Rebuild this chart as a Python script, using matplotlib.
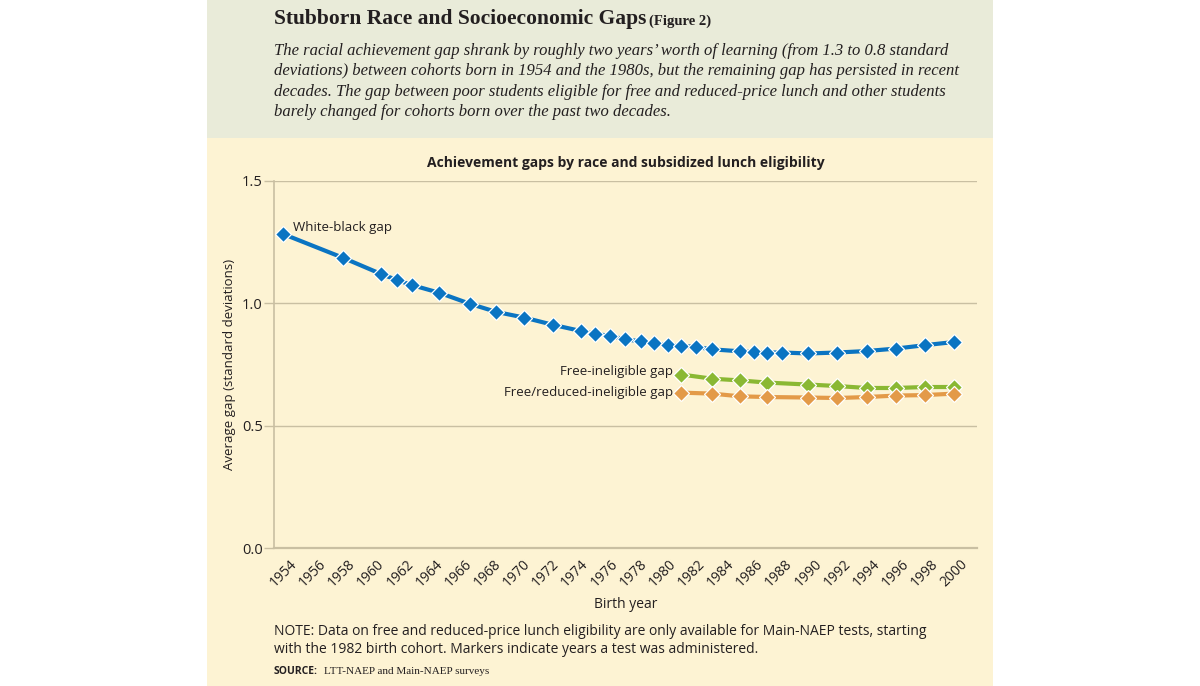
import matplotlib
matplotlib.use("Agg")
import matplotlib.pyplot as plt
from matplotlib.patches import Rectangle
from matplotlib.transforms import ScaledTranslation

# ---- data ----
wb_years = [1954, 1958.1, 1960.7, 1961.8, 1962.8, 1964.7, 1966.8, 1968.6, 1970.5, 1972.5,
            1974.4, 1975.4, 1976.4, 1977.4, 1978.5, 1979.4, 1980.4, 1981.3, 1982.3, 1983.4,
            1985.3, 1986.3, 1987.2, 1988.2, 1990, 1992, 1994, 1996, 1998, 2000]
wb_gap = [1.283, 1.186, 1.120, 1.095, 1.075, 1.043, 0.998, 0.965, 0.942, 0.912,
          0.887, 0.875, 0.867, 0.853, 0.845, 0.838, 0.829, 0.826, 0.822, 0.812,
          0.804, 0.801, 0.799, 0.799, 0.795, 0.799, 0.805, 0.815, 0.829, 0.842]
lunch_years = [1981.3, 1983.4, 1985.3, 1987.2, 1990, 1992, 1994, 1996, 1998, 2000]
free_gap = [0.709, 0.692, 0.685, 0.676, 0.668, 0.662, 0.654, 0.654, 0.658, 0.658]
freered_gap = [0.635, 0.631, 0.620, 0.617, 0.615, 0.613, 0.617, 0.623, 0.625, 0.631]
x_ticks = list(range(1954, 2001, 2))
y_ticks = [0.0, 0.5, 1.0, 1.5]

BLUE = "#0a74c2"
GREEN = "#8ab833"
ORANGE = "#e39a48"
GRID = "#c9bfa2"
CREAM = "#fdf3d3"
HEADER = "#e9ebd9"
TXT = "#231f20"

W, H = 1200, 686
fig = plt.figure(figsize=(12, 6.86), dpi=100)
fig.patch.set_facecolor("white")

# panels
fig.patches.append(Rectangle((207 / W, 0), (993 - 207) / W, 1 - 138 / H,
                             transform=fig.transFigure, facecolor=CREAM, edgecolor="none", zorder=-10))
fig.patches.append(Rectangle((207 / W, 1 - 138 / H), (993 - 207) / W, 138 / H,
                             transform=fig.transFigure, facecolor=HEADER, edgecolor="none", zorder=-10))

serif = ["Liberation Serif", "DejaVu Serif"]
sans = ["Open Sans", "DejaVu Sans"]

def fx(px):
    return px / W

def fy(py):
    return 1 - py / H

fig.text(fx(274), fy(19), "Stubborn Race and Socioeconomic Gaps", family=serif, weight="bold",
         fontsize=15.5, color=TXT, va="center", ha="left")
fig.text(fx(649), fy(21), "(Figure 2)", family=serif, weight="bold", fontsize=10.5,
         color=TXT, va="center", ha="left")
sub = ("The racial achievement gap shrank by roughly two years\u2019 worth of learning (from 1.3 to 0.8 standard\n"
       "deviations) between cohorts born in 1954 and the 1980s, but the remaining gap has persisted in recent\n"
       "decades. The gap between poor students eligible for free and reduced-price lunch and other students\n"
       "barely changed for cohorts born over the past two decades.")
fig.text(fx(274), fy(43), sub, family=serif, style="italic", fontsize=12, color=TXT,
         va="top", ha="left", linespacing=1.36)

ax = fig.add_axes([fx(274), fy(548), (977 - 274) / W, (548 - 181) / H])
ax.set_facecolor("none")
ax.set_xlim(1953.36, 2001.57)
ax.set_ylim(0, 1.5)

for s in ["top", "right"]:
    ax.spines[s].set_visible(False)
ax.spines["left"].set_color(GRID)
ax.spines["bottom"].set_color(GRID)
ax.spines["left"].set_linewidth(1.2)
ax.spines["bottom"].set_linewidth(1.6)

ax.set_yticks(y_ticks)
ax.set_yticklabels([f"{v:.1f}" for v in y_ticks], family=sans, fontsize=10.5, color=TXT)
ax.tick_params(axis="y", length=7, color=GRID, width=1.0, pad=1)
ax.yaxis.grid(True, color=GRID, linewidth=1.0)
ax.set_axisbelow(True)

ax.set_xticks(x_ticks)
ax.set_xticklabels([str(v) for v in x_ticks], rotation=45, ha="right", rotation_mode="anchor",
                   family=sans, fontsize=10, color=TXT)
ax.tick_params(axis="x", length=0, pad=6)
shift = ScaledTranslation(6 / 100, 0, fig.dpi_scale_trans)
for lbl in ax.get_xticklabels():
    lbl.set_transform(lbl.get_transform() + shift)

mk = dict(marker="D", markersize=8.5, markeredgecolor="white", markeredgewidth=0.9)
ax.plot(wb_years, wb_gap, color=BLUE, linewidth=3, **mk, markerfacecolor=BLUE, zorder=3)
ax.plot(lunch_years, free_gap, color=GREEN, linewidth=3, **mk, markerfacecolor=GREEN, zorder=3)
ax.plot(lunch_years, freered_gap, color=ORANGE, linewidth=3, **mk, markerfacecolor=ORANGE, zorder=3)

ax.annotate("White-black gap", (wb_years[0], wb_gap[0]), xytext=(7, 5), textcoords="offset points",
            family=sans, fontsize=9.5, color=TXT, ha="left", va="center")
ax.annotate("Free-ineligible gap", (lunch_years[0], free_gap[0]), xytext=(-6, 2), textcoords="offset points",
            family=sans, fontsize=9.5, color=TXT, ha="right", va="center")
ax.annotate("Free/reduced-ineligible gap", (lunch_years[0], freered_gap[0]), xytext=(-6, 0),
            textcoords="offset points", family=sans, fontsize=9.5, color=TXT, ha="right", va="center")

ax.set_title("Achievement gaps by race and subsidized lunch eligibility", family=sans, weight="bold",
             fontsize=10, color=TXT, pad=10)
ax.set_xlabel("Birth year", family=sans, fontsize=10, color=TXT, labelpad=5)
ax.set_ylabel("Average gap (standard deviations)", family=sans, fontsize=9.5, color=TXT, labelpad=4)

fig.text(fx(274), fy(624), "NOTE: Data on free and reduced-price lunch eligibility are only available for Main-NAEP tests, starting\n"
         "with the 1982 birth cohort. Markers indicate years a test was administered.",
         family=sans, fontsize=10, color=TXT, va="top", ha="left", linespacing=1.3)
fig.text(fx(274), fy(671), "SOURCE:", family=sans, weight="bold", fontsize=7.5, color=TXT, va="center", ha="left")
fig.text(fx(324), fy(671), "LTT-NAEP and Main-NAEP surveys", family=serif, fontsize=8, color=TXT,
         va="center", ha="left")

fig.savefig("out.png", dpi=100, facecolor=fig.get_facecolor())
